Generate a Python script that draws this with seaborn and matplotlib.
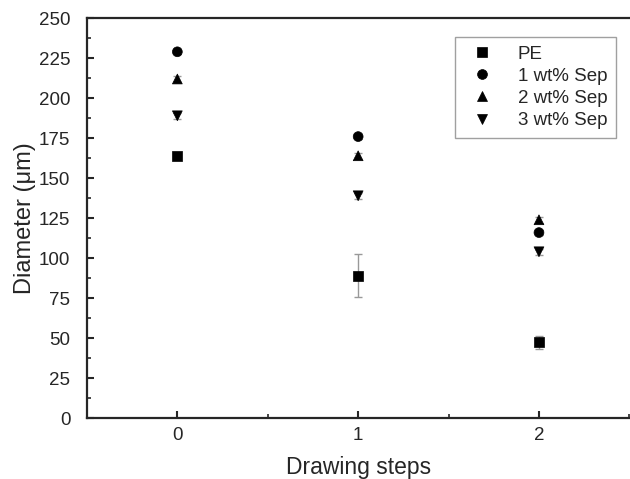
import matplotlib
matplotlib.use("Agg")
import matplotlib.pyplot as plt
import seaborn as sns
import pandas as pd
import numpy as np
from matplotlib.ticker import MultipleLocator

sns.set_style("ticks")
plt.rcParams['font.family'] = ['Liberation Sans', 'DejaVu Sans']

steps = [0, 1, 2]
series = ["PE", "1 wt% Sep", "2 wt% Sep", "3 wt% Sep"]
pe = [164, 89, 47.5]
sep1 = [229, 176, 116]
sep2 = [212, 164, 124]
sep3 = [189, 139, 104]
pe_err = [2, 13.5, 4]
sep1_err = [1.5, 1.5, 1.5]
sep2_err = [2, 2, 2]
sep3_err = [2, 2, 2]

values = [pe, sep1, sep2, sep3]
errors = [pe_err, sep1_err, sep2_err, sep3_err]
rows = []
for name, vals, errs in zip(series, values, errors):
    for s, v, e in zip(steps, vals, errs):
        rows.append({"step": s, "diameter": v, "err": e, "sample": name})
df = pd.DataFrame(rows)

fig = plt.figure(figsize=(6.3, 4.79), dpi=100)
ax = fig.add_axes([0.138, 0.127, 0.861, 0.835])

for name in series:
    sub = df[df["sample"] == name]
    ax.errorbar(sub["step"], sub["diameter"], yerr=sub["err"], fmt="none",
                ecolor="#999999", elinewidth=1, capsize=3, capthick=1, zorder=1)

markers = {"PE": "s", "1 wt% Sep": "o", "2 wt% Sep": "^", "3 wt% Sep": "v"}
sns.scatterplot(data=df, x="step", y="diameter", style="sample", markers=markers,
                style_order=series, color="black", s=50, edgecolor="black",
                linewidth=0.5, ax=ax, zorder=3)

ax.set_xlim(-0.5, 2.5)
ax.set_ylim(0, 250)
ax.set_xticks(steps)
ax.xaxis.set_minor_locator(MultipleLocator(0.5))
ax.yaxis.set_major_locator(MultipleLocator(25))
ax.yaxis.set_minor_locator(MultipleLocator(12.5))
ax.tick_params(axis="both", which="major", direction="in", length=5, width=1.5,
               labelsize=13.5, top=False, right=False)
ax.tick_params(axis="y", which="major", pad=12)
ax.tick_params(axis="x", which="major", pad=6)
ax.tick_params(axis="both", which="minor", direction="in", length=3, width=1.2,
               top=False, right=False)
for sp in ["left", "bottom", "top"]:
    ax.spines[sp].set_linewidth(1.6)
ax.spines["right"].set_visible(False)
ax.spines["top"].set_visible(True)

ax.set_xlabel("Drawing steps", fontsize=16.5, labelpad=9)
ax.set_ylabel("Diameter (\u03bcm)", fontsize=17, labelpad=2)

leg = ax.legend(loc="upper right", bbox_to_anchor=(0.975, 0.953), fontsize=13.5,
                frameon=True, fancybox=False, edgecolor="#888888",
                handletextpad=0.9, labelspacing=0.27, borderpad=0.45,
                borderaxespad=0, title=None, markerscale=1.0)
leg.get_frame().set_linewidth(1)

fig.savefig("out.png", dpi=100)
